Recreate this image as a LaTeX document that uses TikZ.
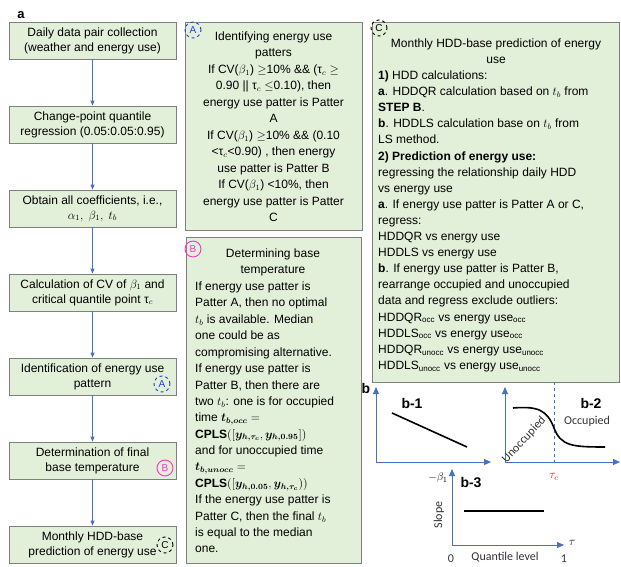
\documentclass[tikz,border=0pt]{standalone}
\usepackage{amsmath}
\usepackage{bm}
\usepackage{fontspec}
\setmainfont{Liberation Sans}
\newfontfamily\calibri{Carlito}
\usetikzlibrary{arrows.meta}
\definecolor{boxfill}{HTML}{E2EFD9}
\definecolor{boxgray}{HTML}{7F7F7F}
\definecolor{arrblue}{HTML}{4472C4}
\definecolor{tagblue}{HTML}{1F3FE6}
\definecolor{tagpink}{HTML}{FF33CC}
\lineskiplimit=-30pt
\lineskip=0pt
\tikzset{
  box/.style={draw=boxgray, fill=boxfill, line width=0.8pt, inner sep=0pt},
  lbox/.style={box, minimum width=167pt, minimum height=37pt, align=center,
    font=\fontsize{12}{15}\selectfont},
  txt/.style={inner sep=0pt},
  flow/.style={draw=arrblue, line width=0.9pt, -{Triangle[length=5pt,width=4pt]}},
  axis/.style={draw=arrblue, line width=0.9pt, -{Triangle[length=7pt,width=6pt]}},
  tag/.style={circle, draw, dashed, line width=0.9pt, minimum size=16pt, inner sep=0pt,
    font=\fontsize{10}{10}\selectfont},
  curve/.style={draw=black, line width=1.6pt},
  blab/.style={inner sep=0pt, font=\fontsize{14}{14}\selectfont\bfseries},
  clab/.style={inner sep=0pt, font=\fontsize{12}{12}\selectfont\calibri, text=black!80}
}
\begin{document}
\begin{tikzpicture}[x=1pt,y=-1pt]
\useasboundingbox (0,0) rectangle (621,567);
\fill[white] (0,0) rectangle (621,567);

% label a
\node[blab, font=\fontsize{13}{13}\selectfont\bfseries] (la) at (21,15) {a};

% left column
\node[lbox] (s1) at (92.5,40.5) {Daily data pair collection\\(weather and energy use)};
\node[lbox] (s2) at (92.5,124.5) {Change-point quantile\\regression (0.05:0.05:0.95)};
\node[lbox] (s3) at (92.5,208.5) {Obtain all coefficients, i.e.,\\$\alpha_1,\ \beta_1,\ t_b$};
\node[lbox] (s4) at (92.5,292.5) {Calculation of CV of $\beta_1$ and\\critical quantile point τ$_c$};
\node[lbox] (s5) at (92.5,376.5) {Identification of energy use\\pattern};
\node[lbox] (s6) at (92.5,460.5) {Determination of final\\base temperature};
\node[lbox] (s7) at (92.5,544.5) {Monthly HDD-base\\prediction of energy use};
\draw[flow] (s1) -- (s2);
\draw[flow] (s2) -- (s3);
\draw[flow] (s3) -- (s4);
\draw[flow] (s4) -- (s5);
\draw[flow] (s5) -- (s6);
\draw[flow] (s6) -- (s7);

% box A
\node[box, minimum width=177pt, minimum height=208pt, anchor=north west] (A) at (185,22) {};
\node[txt, anchor=north, align=center, font=\fontsize{12}{16.5}\selectfont] (Atext) at (273.5,31.5) {Identifying energy use\\
patters\\
If CV($\beta_1$) $\geq$10\% \&\& (τ$_c$ $\geq$\\
0.90 || τ$_c$ $\leq$0.10), then\\
energy use patter is Patter\\
A\\
If CV($\beta_1$) $\geq$10\% \&\& (0.10\\
<τ$_c$<0.90) , then energy\\
use patter is Patter B\\
If CV($\beta_1$) <10\%, then\\
energy use patter is Patter\\
C};

% box B
\node[box, minimum width=175pt, minimum height=326pt, anchor=north west] (B) at (186,237) {};
\node[txt, anchor=north, align=center, font=\fontsize{12}{16.4}\selectfont] (Btitle) at (273,248.7) {Determining base\\temperature};
\node[txt, anchor=north west, align=left, font=\fontsize{12}{16.4}\selectfont] (Btext) at (195,281.7) {If energy use patter is\\
Patter A, then no optimal\\
$t_b$ is available. Median\\
one could be as\\
compromising alternative.\\
If energy use patter is\\
Patter B, then there are\\
two $t_b$: one is for occupied\\
time $\bm{t_{b,occ}} =$\\
$\mathbf{CPLS}([\bm{y_{h,\tau_c}}, \bm{y_{h,0.95}}])$\\
and for unoccupied time\\
$\bm{t_{b,unocc}} =$\\
$\mathbf{CPLS}([\bm{y_{h,0.05}}, \bm{y_{h,\tau_c}}))$\\
If the energy use patter is\\
Patter C, then the final $t_b$\\
is equal to the median\\
one.};

% box C
\node[box, minimum width=247pt, minimum height=360pt, anchor=north west] (C) at (372,22) {};
\node[txt, anchor=north, align=center, font=\fontsize{12}{16}\selectfont] (Ctitle) at (496,38.7) {Monthly HDD-base prediction of energy\\use};
\node[txt, anchor=north west, align=left, font=\fontsize{12}{16.1}\selectfont] (Ctext) at (378,70.7) {\textbf{1)} HDD calculations:\\
\textbf{a}. HDDQR calculation based on $t_b$ from\\
\textbf{STEP B}.\\
\textbf{b}. HDDLS calculation base on $t_b$ from\\
LS method.\\
\textbf{2) Prediction of energy use:}\\
regressing the relationship daily HDD\\
vs energy use\\
\textbf{a}. If energy use patter is Patter A or C,\\
regress:\\
HDDQR vs energy use\\
HDDLS vs energy use\\
\textbf{b}. If energy use patter is Patter B,\\
rearrange occupied and unoccupied\\
data and regress exclude outliers:\\
HDDQR\textsubscript{occ} vs energy use\textsubscript{occ}\\
HDDLS\textsubscript{occ} vs energy use\textsubscript{occ}\\
HDDQR\textsubscript{unocc} vs energy use\textsubscript{unocc}\\
HDDLS\textsubscript{unocc} vs energy use\textsubscript{unocc}};

% tags
\node[tag, draw=tagblue, text=tagblue] (tA1) at (162,384) {A};
\node[tag, draw=tagblue, text=tagblue] (tA2) at (193,30) {A};
\node[tag, solid, draw=tagpink, text=tagpink] (tB1) at (165,468) {B};
\node[tag, solid, draw=tagpink, text=tagpink] (tB2) at (193,249) {B};
\node[tag, draw=black] (tC1) at (165,545) {C};
\node[tag, draw=black] (tC2) at (379,28) {C};

% charts
\node[blab] (lb) at (366,388) {b};
% b-1
\draw[axis] (376,462) -- (376,387);
\draw[axis] (376,462) -- (491,462);
\draw[curve] (392,413) -- (467,447);
\node[blab] (lb1) at (412,403) {b-1};
% b-2
\draw[arrblue, line width=0.6pt, dashed] (554,382) -- (554,462);
\draw[axis] (505,462) -- (505,387);
\draw[axis] (505,462) -- (620,462);
\draw[curve] (513,408) .. controls (538,406) and (547,410) .. (554,428)
  .. controls (561,446) and (572,447) .. (605,447);
\node[blab] (lb2) at (591,403) {b-2};
\node[clab] (occ) at (587,421) {Occupied};
\node[clab, rotate=47] (unocc) at (524,440) {Unoccupied};
\node[inner sep=0pt, text=red, font=\fontsize{12}{12}\selectfont] (tauc) at (554,477) {$\tau_c$};
% b-3
\draw[axis] (452,545) -- (452,469);
\draw[axis] (452,545) -- (564,545);
\draw[curve] (464,511) -- (544,511);
\node[inner sep=0pt, font=\fontsize{11}{11}\selectfont] (mb) at (438,478) {$-\beta_1$};
\node[blab] (lb3) at (471,483) {b-3};
\node[clab, rotate=90] (slope) at (439,515) {Slope};
\node[inner sep=0pt, font=\fontsize{12}{12}\selectfont] (tau) at (572,543) {$\tau$};
\node[clab] (zero) at (451,559) {0};
\node[clab] (ql) at (505,557) {Quantile level};
\node[clab] (one) at (564,559) {1};
\end{tikzpicture}
\end{document}
